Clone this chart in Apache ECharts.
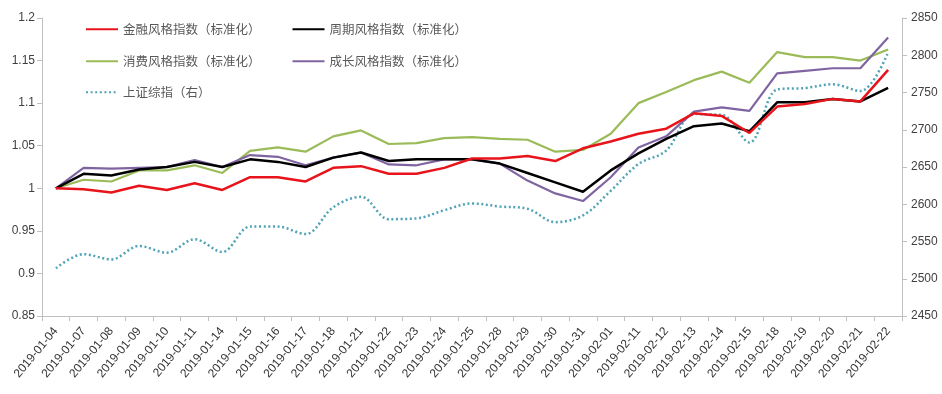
<!DOCTYPE html>
<html>
<head>
<meta charset="utf-8">
<script src="https://cdn.jsdelivr.net/npm/echarts@6/dist/echarts.min.js"></script>
<style>
html,body{margin:0;padding:0;background:#fff;}
#chart{width:942px;height:394px;}
</style>
</head>
<body>
<div id="chart"></div>
<script>
var categories = ['2019-01-04','2019-01-07','2019-01-08','2019-01-09','2019-01-10','2019-01-11','2019-01-14','2019-01-15','2019-01-16','2019-01-17','2019-01-18','2019-01-21','2019-01-22','2019-01-23','2019-01-24','2019-01-25','2019-01-28','2019-01-29','2019-01-30','2019-01-31','2019-02-01','2019-02-11','2019-02-12','2019-02-13','2019-02-14','2019-02-15','2019-02-18','2019-02-19','2019-02-20','2019-02-21','2019-02-22'];
var finance = [1.000,0.999,0.995,1.003,0.998,1.006,0.998,1.013,1.013,1.008,1.024,1.026,1.017,1.017,1.024,1.035,1.035,1.038,1.032,1.047,1.055,1.064,1.070,1.088,1.085,1.065,1.096,1.099,1.105,1.102,1.139];
var cycle = [1.000,1.017,1.015,1.022,1.025,1.031,1.025,1.034,1.031,1.025,1.036,1.042,1.032,1.034,1.034,1.034,1.029,1.018,1.007,0.996,1.021,1.041,1.058,1.073,1.076,1.067,1.101,1.101,1.105,1.102,1.118];
var consume = [1.000,1.010,1.008,1.021,1.021,1.027,1.018,1.044,1.048,1.043,1.061,1.068,1.052,1.053,1.059,1.060,1.058,1.057,1.043,1.045,1.064,1.100,1.113,1.127,1.137,1.124,1.160,1.154,1.154,1.150,1.163];
var growth = [1.000,1.024,1.023,1.024,1.025,1.033,1.025,1.039,1.037,1.027,1.036,1.042,1.028,1.027,1.034,1.034,1.029,1.009,0.994,0.985,1.013,1.048,1.061,1.090,1.095,1.091,1.135,1.138,1.141,1.141,1.177];
var shIndex = [2514,2533,2526,2544,2535,2553,2536,2570,2570,2560,2596,2610,2580,2581,2592,2601,2597,2594,2576,2585,2618,2654,2672,2721,2720,2683,2754,2756,2761,2752,2804];
var seriesNames = ['金融风格指数（标准化）','周期风格指数（标准化）','消费风格指数（标准化）','成长风格指数（标准化）','上证综指（右）'];

var chart = echarts.init(document.getElementById('chart'), null, {renderer:'canvas'});
var axisColor = '#bfbfbf';
var labelFont = 'Liberation Sans';
var legendText = {fontSize:12.5, color:'#595959', fontFamily:'Noto Sans CJK SC'};
function legend(names, top){
  return {data:names, left:80, top:top, itemWidth:32, itemHeight:14, itemGap:31,
    itemStyle:{opacity:0},
    textStyle:legendText, selectedMode:false};
}
var option = {
  animation:false,
  backgroundColor:'#ffffff',
  legend:[legend([seriesNames[0],seriesNames[1]],18), legend([seriesNames[2],seriesNames[3]],50), legend([seriesNames[4]],81)],
  grid:{left:42,right:40,top:18,bottom:78},
  xAxis:{type:'category',data:categories,boundaryGap:true,
    axisLine:{lineStyle:{color:axisColor,width:1}},
    axisTick:{show:true,length:5,lineStyle:{color:axisColor}},
    axisLabel:{rotate:50,interval:0,fontSize:12,color:'#333333',fontFamily:labelFont,margin:13}},
  yAxis:[
    {type:'value',min:0.85,max:1.2,interval:0.05,position:'left',
     axisLine:{show:true,lineStyle:{color:axisColor}},
     axisTick:{show:true,length:5,lineStyle:{color:axisColor}},
     splitLine:{show:false},
     axisLabel:{fontSize:12,color:'#404040',fontFamily:labelFont,margin:7}},
    {type:'value',min:2450,max:2850,interval:50,position:'right',
     axisLine:{show:true,lineStyle:{color:axisColor}},
     axisTick:{show:true,length:5,lineStyle:{color:axisColor}},
     splitLine:{show:false},
     axisLabel:{fontSize:12,color:'#404040',fontFamily:labelFont,margin:9,
       formatter:function(v){return String(v);}}}
  ],
  series:[
    {name:seriesNames[4],type:'line',yAxisIndex:1,data:shIndex,symbol:'none',smooth:0.35,
     lineStyle:{color:'#4fa3b5',width:2.5,type:[2,2.6]},itemStyle:{color:'#4fa3b5'}},
    {name:seriesNames[2],type:'line',data:consume,symbol:'none',
     lineStyle:{color:'#9bbb59',width:2.2},itemStyle:{color:'#9bbb59'}},
    {name:seriesNames[3],type:'line',data:growth,symbol:'none',
     lineStyle:{color:'#8064a2',width:2.2},itemStyle:{color:'#8064a2'}},
    {name:seriesNames[1],type:'line',data:cycle,symbol:'none',
     lineStyle:{color:'#000000',width:2.5},itemStyle:{color:'#000000'}},
    {name:seriesNames[0],type:'line',data:finance,symbol:'none',
     lineStyle:{color:'#e8141b',width:2.5},itemStyle:{color:'#e8141b'}}
  ]
};
chart.setOption(option);
</script>
</body>
</html>
